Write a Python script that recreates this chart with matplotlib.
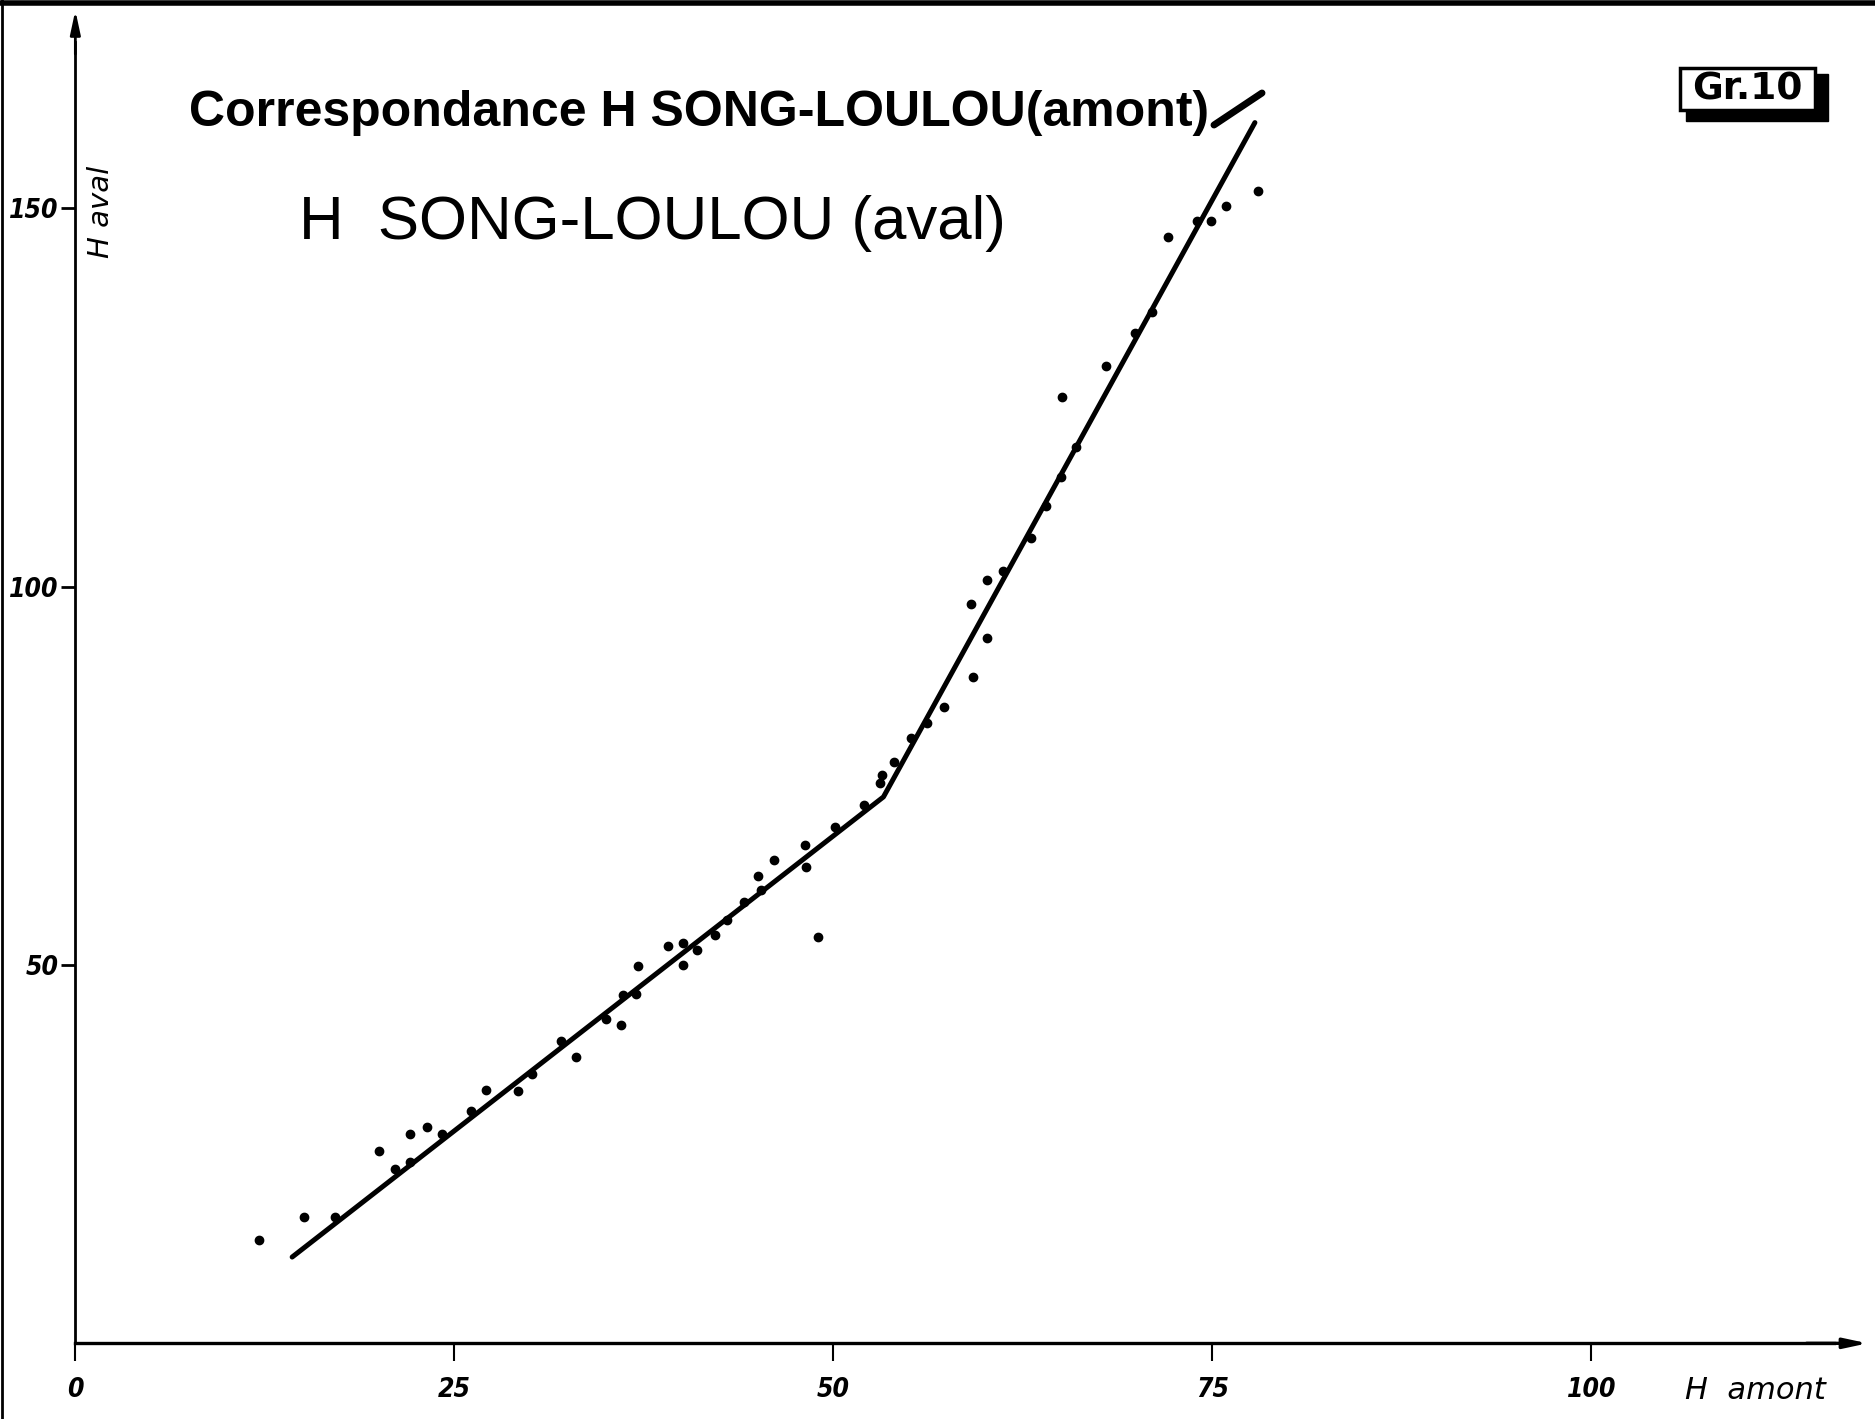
#Correspondance H SONG-LOULOU (amont) / H SONG-LOULOU (aval), Gr.10
import matplotlib
matplotlib.use('Agg')
import matplotlib.pyplot as plt
from matplotlib import font_manager
from matplotlib.patches import Rectangle
from matplotlib.lines import Line2D

# points (H amont, H aval)
h_amont = [12.1, 15.1, 17.1, 20.0, 21.1, 22.1, 22.1, 23.2, 24.2, 26.1,
           27.1, 29.2, 30.1, 32.0, 33.0, 35.0, 36.0, 36.1, 37.0, 37.1,
           39.1, 40.1, 40.1, 41.0, 42.2, 43.0, 44.1, 45.0, 45.2, 46.1,
           48.1, 48.2, 49.0, 50.1, 52.0, 53.2, 53.1, 54.0, 55.1, 56.2,
           57.3, 59.2, 60.1, 59.1, 60.1, 61.2, 63.0, 64.0, 65.0, 66.0,
           65.1, 68.0, 69.9, 71.0, 72.1, 74.0, 74.9, 75.9, 78.0]
h_aval = [13.7, 16.7, 16.7, 25.4, 23.0, 27.6, 24.0, 28.6, 27.6, 30.7,
          33.5, 33.3, 35.6, 39.9, 37.8, 42.8, 42.0, 46.0, 46.1, 49.8,
          52.5, 52.9, 50.0, 52.0, 53.9, 55.9, 58.3, 61.8, 59.9, 63.9,
          65.8, 62.9, 53.7, 68.2, 71.1, 75.1, 74.0, 76.8, 80.0, 82.0,
          84.1, 88.1, 93.2, 97.7, 100.8, 102.0, 106.4, 110.7, 114.5, 118.4,
          125.1, 129.1, 133.5, 136.3, 146.2, 148.3, 148.3, 150.3, 152.3]

# the hand drawn correspondance curve (two straight pieces)
curve_amont = [14.3, 53.3, 77.8]
curve_aval = [11.4, 72.2, 161.3]

xticks = [0, 25, 50, 75, 100]
yticks = [50, 100, 150]

names = {f.name for f in font_manager.fontManager.ttflist}
if 'Liberation Sans Narrow' in names:
    title_font, title_size = 'Liberation Sans Narrow', 43
else:
    title_font, title_size = 'Liberation Sans', 36

fig = plt.figure(figsize=(18.75, 14.19), dpi=100)
ax = fig.add_axes([0, 0, 1, 1])
ax.set_xlim(-4.97, 118.7)
ax.set_ylim(-10.0, 177.5)

ax.plot(curve_amont, curve_aval, color='black', lw=3.6, solid_capstyle='round')
ax.plot(h_amont, h_aval, 'o', color='black', ms=6)

# axes drawn like the original: two lines through the origin with arrows
for s in ['top', 'right']:
    ax.spines[s].set_visible(False)
ax.spines['left'].set_position(('data', 0))
ax.spines['bottom'].set_position(('data', 0))
ax.spines['left'].set_bounds(0, 172)
ax.spines['bottom'].set_bounds(0, 116)
ax.spines['left'].set_linewidth(2)
ax.spines['bottom'].set_linewidth(2.4)
ax.annotate('', xy=(0, 176.5), xytext=(0, 170),
            arrowprops=dict(arrowstyle='-|>,head_length=1.4,head_width=0.3', color='black', lw=2))
ax.annotate('', xy=(118.4, 0), xytext=(114, 0),
            arrowprops=dict(arrowstyle='-|>,head_length=1.4,head_width=0.3', color='black', lw=2.4))

tickfont = dict(family='DejaVu Sans', fontsize=19, fontweight='bold', fontstyle='italic', fontstretch='condensed')
ax.set_xticks(xticks)
ax.set_xticklabels([str(t) for t in xticks], **tickfont)
ax.set_yticks(yticks)
ax.set_yticklabels([str(t) for t in yticks], **tickfont)
ax.tick_params(axis='x', direction='out', length=13, width=1.5, pad=11)
ax.tick_params(axis='y', direction='out', length=10, width=2, pad=2)

ax.text(106.2, -6.3, 'H  amont', fontsize=22, fontstyle='italic', ha='left', va='center')
ax.text(0.8, 149.5, 'H aval', fontsize=21, fontstyle='italic', rotation=90, ha='left', va='center')

# title, two lines
fig.text(189 / 1875, 1 - 113 / 1419, 'Correspondance H SONG-LOULOU(amont)',
         family=title_font, fontsize=title_size, fontweight='bold', ha='left', va='center')
fig.add_artist(Line2D([1214 / 1875, 1262 / 1875], [1 - 125 / 1419, 1 - 93 / 1419],
                      color='black', lw=5, solid_capstyle='round'))
fig.text(299 / 1875, 1 - 224 / 1419, 'H  SONG-LOULOU (aval)',
         family='Liberation Sans', fontsize=44.5, ha='left', va='center')

# Gr.10 label in a box with a shadow
fig.add_artist(Rectangle((0.899, 0.9147), 0.0757, 0.0331, transform=fig.transFigure,
                         facecolor='black', edgecolor='black'))
fig.add_artist(Rectangle((0.896, 0.9225), 0.072, 0.0296, transform=fig.transFigure,
                         facecolor='white', edgecolor='black', lw=2.5))
fig.text(0.932, 0.937, 'Gr.10', fontsize=27, fontweight='bold', ha='center', va='center')

# edges of the scanned sheet
fig.add_artist(Line2D([0, 1], [0.998, 0.998], color='black', lw=4))
fig.add_artist(Line2D([0.001, 0.001], [0, 1], color='black', lw=2))

plt.savefig('out.png', dpi=100)
